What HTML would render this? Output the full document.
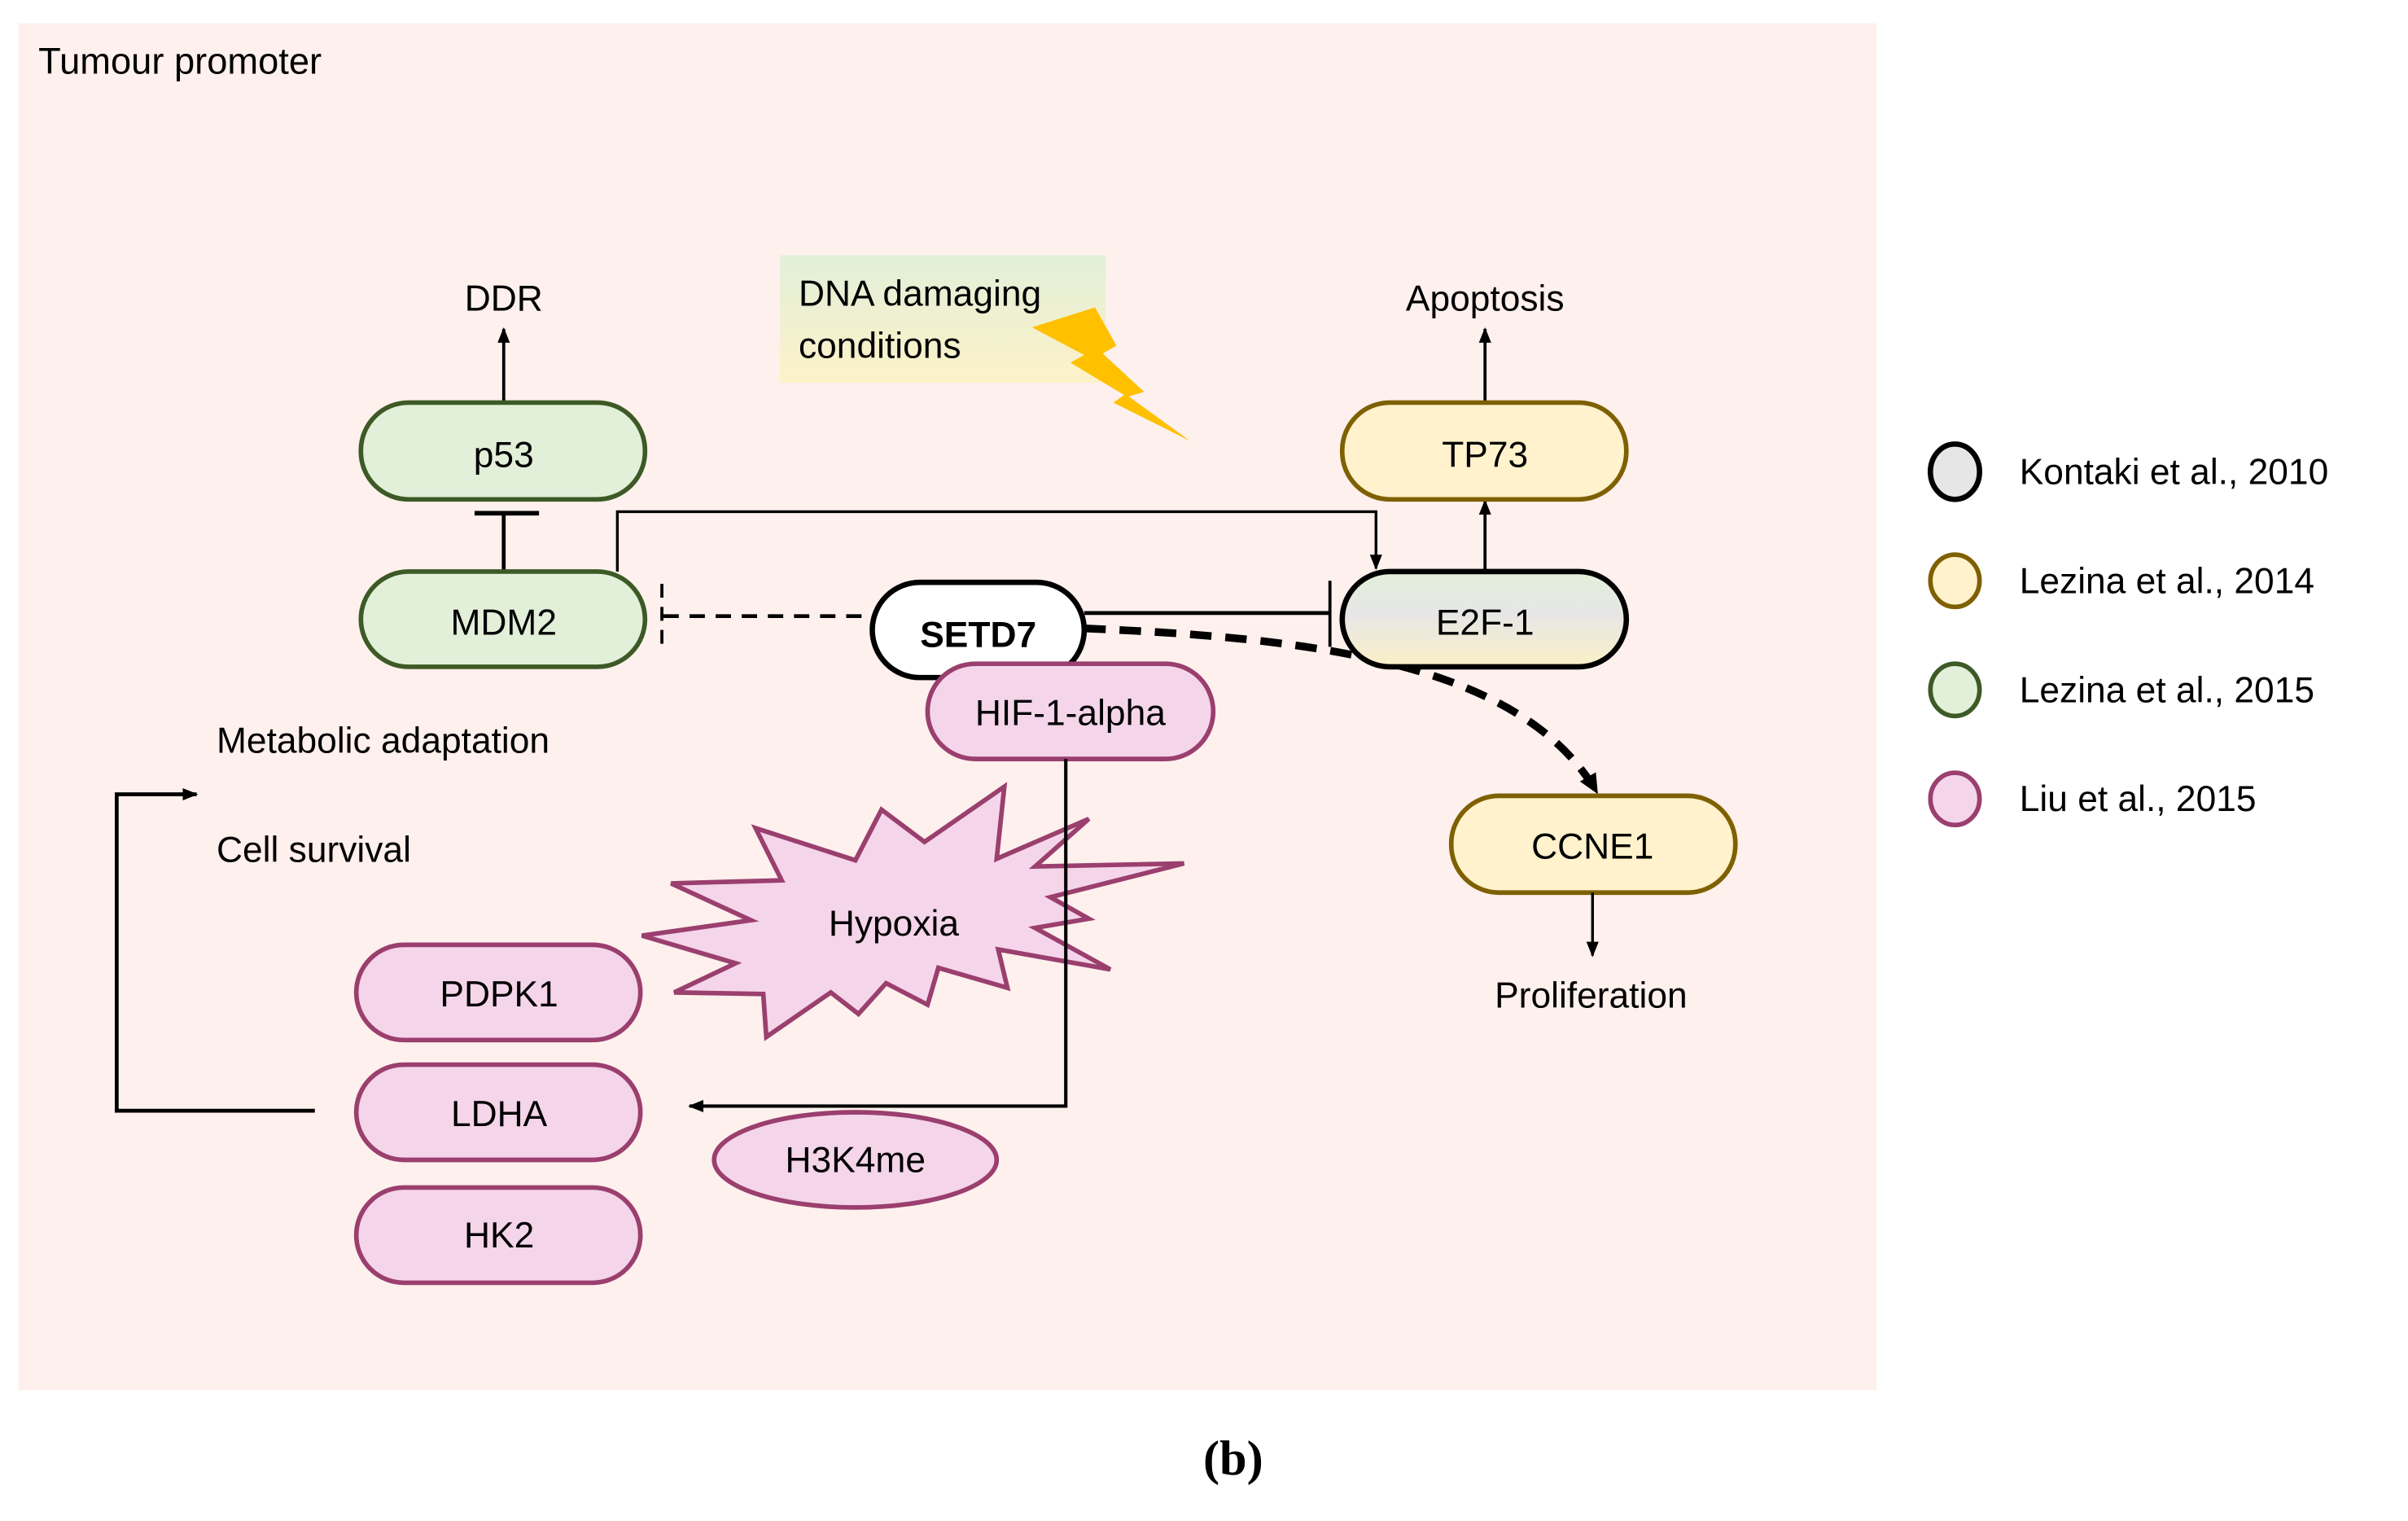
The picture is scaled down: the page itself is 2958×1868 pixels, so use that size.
<!DOCTYPE html>
<html><head><meta charset="utf-8"><style>
html,body{margin:0;padding:0;background:#fff}
svg{display:block}
text{font-family:"Liberation Sans",sans-serif;font-size:23.5px;fill:#000}
.c{text-anchor:middle}
</style></head><body>
<svg width="2958" height="1868" viewBox="0 0 1568 990" xmlns="http://www.w3.org/2000/svg">
<defs>
<marker id="a" markerWidth="10" markerHeight="10" refX="9" refY="5" orient="auto" markerUnits="userSpaceOnUse"><path d="M0,1 L10,5 L0,9 Z" fill="#000"/></marker>
<marker id="a2" markerWidth="14" markerHeight="14" refX="12" refY="7" orient="auto" markerUnits="userSpaceOnUse"><path d="M0,1 L13,7 L0,13 Z" fill="#000"/></marker>
<linearGradient id="ge" x1="0" y1="0" x2="0" y2="1"><stop offset="0" stop-color="#e2efd9"/><stop offset="0.45" stop-color="#e6e6e6"/><stop offset="1" stop-color="#fbf0c8"/></linearGradient>
<linearGradient id="gd" x1="0" y1="0" x2="0" y2="1"><stop offset="0" stop-color="#e2efd9"/><stop offset="1" stop-color="#fdf2c8"/></linearGradient>
</defs>
<rect x="12" y="15" width="1210" height="890" fill="#fdf0ed"/>
<text x="25" y="48" style="font-size:24px">Tumour promoter</text>

<rect x="508" y="166" width="212" height="83" fill="url(#gd)"/>
<text x="520" y="199">DNA damaging</text>
<text x="520" y="233">conditions</text>
<polygon points="672,213 713,200 727,225 718,230 745,255 735,258 775,287 725,262 732,257 697,236 706,231" fill="#ffc000"/>

<line x1="328" y1="262" x2="328" y2="214" stroke="#000" stroke-width="2" marker-end="url(#a)"/>
<text x="328" y="202" class="c">DDR</text>
<line x1="967" y1="262" x2="967" y2="214" stroke="#000" stroke-width="2" marker-end="url(#a)"/>
<text x="967" y="202" class="c">Apoptosis</text>
<line x1="967" y1="372" x2="967" y2="326" stroke="#000" stroke-width="2" marker-end="url(#a)"/>

<line x1="328" y1="372" x2="328" y2="334" stroke="#000" stroke-width="2.5"/>
<line x1="309" y1="334" x2="351" y2="334" stroke="#000" stroke-width="3"/>
<polyline points="402,372 402,333 896,333 896,370" fill="none" stroke="#000" stroke-width="1.8" marker-end="url(#a)"/>

<line x1="432" y1="401" x2="566" y2="401" stroke="#000" stroke-width="2.5" stroke-dasharray="10,7"/>
<line x1="431" y1="380" x2="431" y2="425" stroke="#000" stroke-width="2" stroke-dasharray="9,6"/>
<line x1="706" y1="399" x2="866" y2="399" stroke="#000" stroke-width="2.5"/>
<line x1="866" y1="378" x2="866" y2="421" stroke="#000" stroke-width="2"/>
<path d="M706,409 C850,415 990,430 1040,516" fill="none" stroke="#000" stroke-width="5" stroke-dasharray="14,9" marker-end="url(#a2)"/>

<rect x="235" y="262" width="185" height="63" rx="31" fill="#e2efd9" stroke="#3d5a26" stroke-width="3"/>
<text x="328" y="304" class="c">p53</text>
<rect x="235" y="372" width="185" height="62" rx="31" fill="#e2efd9" stroke="#3d5a26" stroke-width="3"/>
<text x="328" y="413" class="c">MDM2</text>
<rect x="874" y="262" width="185" height="63" rx="31" fill="#fff2cc" stroke="#7f6000" stroke-width="3"/>
<text x="967" y="304" class="c">TP73</text>
<rect x="874" y="372" width="185" height="62" rx="31" fill="url(#ge)" stroke="#000" stroke-width="3.5"/>
<text x="967" y="413" class="c">E2F-1</text>
<rect x="568" y="379" width="138" height="62" rx="31" fill="#fff" stroke="#000" stroke-width="3.5"/>
<text x="637" y="421" class="c" style="font-weight:bold">SETD7</text>
<rect x="945" y="518" width="185" height="63" rx="31" fill="#fff2cc" stroke="#7f6000" stroke-width="3"/>
<text x="1037" y="559" class="c">CCNE1</text>
<line x1="1037" y1="581" x2="1037" y2="622" stroke="#000" stroke-width="1.8" marker-end="url(#a)"/>
<text x="1036" y="656" class="c">Proliferation</text>

<polygon points="654,512 649,559 709,533 674,564 771,562 684,584 709,598 674,604 723,631 650,618 656,643 611,630 604,654 577,640 559,660 541,646 499,675 497,647 439,646 479,627 418,609 489,599 437,575 509,573 492,539 557,560 574,527 602,548" fill="#f5d5ea" stroke="#9a3f6e" stroke-width="3" stroke-linejoin="miter"/>
<text x="582" y="609" class="c">Hypoxia</text>

<rect x="604" y="432" width="186" height="62" rx="31" fill="#f5d5ea" stroke="#9a3f6e" stroke-width="3"/>
<text x="697" y="472" class="c">HIF-1-alpha</text>
<polyline points="694,494 694,720 449,720" fill="none" stroke="#000" stroke-width="2.2" marker-end="url(#a)"/>

<ellipse cx="557" cy="755" rx="92" ry="31" fill="#f5d5ea" stroke="#9a3f6e" stroke-width="3"/>
<text x="557" y="763" class="c">H3K4me</text>

<rect x="232" y="615" width="185" height="62" rx="31" fill="#f5d5ea" stroke="#9a3f6e" stroke-width="3"/>
<text x="325" y="655" class="c">PDPK1</text>
<rect x="232" y="693" width="185" height="62" rx="31" fill="#f5d5ea" stroke="#9a3f6e" stroke-width="3"/>
<text x="325" y="733" class="c">LDHA</text>
<rect x="232" y="773" width="185" height="62" rx="31" fill="#f5d5ea" stroke="#9a3f6e" stroke-width="3"/>
<text x="325" y="812" class="c">HK2</text>

<text x="141" y="490">Metabolic adaptation</text>
<text x="141" y="561">Cell survival</text>
<polyline points="205,723 76,723 76,517 128,517" fill="none" stroke="#000" stroke-width="2.5" marker-end="url(#a)"/>

<ellipse cx="1273" cy="307" rx="16" ry="18" fill="#e6e6e6" stroke="#000" stroke-width="3.5"/>
<text x="1315" y="315">Kontaki et al., 2010</text>
<ellipse cx="1273" cy="378" rx="16" ry="17" fill="#fff2cc" stroke="#7f6000" stroke-width="3"/>
<text x="1315" y="386">Lezina et al., 2014</text>
<ellipse cx="1273" cy="449" rx="16" ry="17" fill="#e2efd9" stroke="#3d5a26" stroke-width="3"/>
<text x="1315" y="457">Lezina et al., 2015</text>
<ellipse cx="1273" cy="520" rx="16" ry="17" fill="#f5d5ea" stroke="#9a3f6e" stroke-width="3"/>
<text x="1315" y="528">Liu et al., 2015</text>

<text x="803" y="960" class="c" style="font-family:'Liberation Serif',serif;font-weight:bold;font-size:32px">(b)</text>
</svg>
</body></html>
